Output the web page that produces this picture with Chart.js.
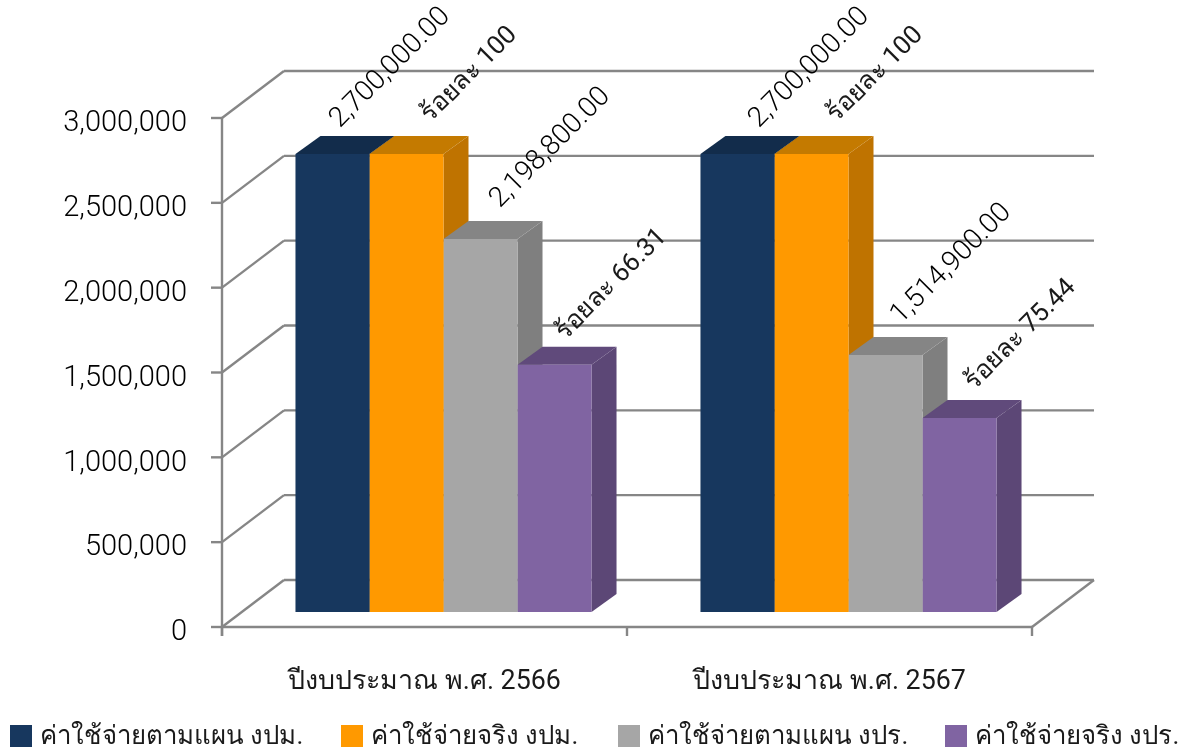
<!DOCTYPE html>
<html lang="th">
<head>
<meta charset="utf-8">
<title>ค่าใช้จ่าย งปม. งปร.</title>
<script src="https://cdn.jsdelivr.net/npm/chart.js@4/dist/chart.umd.min.js"></script>
<style>
  html, body { margin: 0; padding: 0; background: #fff; }
  #wrap { width: 1189px; height: 755px; }
</style>
</head>
<body>
<div id="wrap"><canvas id="budgetChart" width="1189" height="755"></canvas></div>
<script>
const years = ['ปีงบประมาณ พ.ศ. 2566', 'ปีงบประมาณ พ.ศ. 2567'];
const seriesNames = ['ค่าใช้จ่ายตามแผน งปม.', 'ค่าใช้จ่ายจริง งปม.', 'ค่าใช้จ่ายตามแผน งปร.', 'ค่าใช้จ่ายจริง งปร.'];
const planOperating = [2700000, 2700000];
const actualOperating = [2700000, 2700000];
const planInvestment = [2198800, 1514900];
const actualInvestment = [1458000, 1143000];
const barLabels = [
  ['2,700,000.00', '2,700,000.00'],
  ['ร้อยละ 100', 'ร้อยละ 100'],
  ['2,198,800.00', '1,514,900.00'],
  ['ร้อยละ 66.31', 'ร้อยละ 75.44']
];
const yTicks = [0, 500000, 1000000, 1500000, 2000000, 2500000, 3000000];

// digits only strings use light Roboto, strings with Thai stay at regular weight
const DIGIT_FONT = '300 28px Roboto, sans-serif';
const THAI_FAMILY = 'Roboto, "Noto Sans", sans-serif';
const THAI_LABEL_FONT = `25.8px ${THAI_FAMILY}`;
const LEGEND_FONT = `25.8px ${THAI_FAMILY}`;
const TEXT = '#1a1a1a';
const DIGIT_TEXT = '#000';
const FRONT = ['#17375e', '#ff9900', '#a6a6a6', '#8064a2'];
const SIDE = ['#122c4b', '#bf7300', '#7f7f7f', '#5c4776'];
const TOP = ['#122c4b', '#c47a00', '#858585', '#604a7b'];
const GRID = '#868686';

// depth of the box and where the bars sit inside it
const WALL_DX = 62, WALL_DY = 47;
const BAR_DX = 19, BAR_DY = 15;
const DEPTH_DX = 25, DEPTH_DY = 18;

// label centres relative to the top middle of each bar
const LABEL_OFFSETS = [
  [[58, -86], [72, -86]],
  [[63, -79], [64, -79]],
  [[70, -91], [66, -91]],
  [[57, -80], [61, -83]]
];
const LEGEND_X = [10, 341, 618, 945];

function line(ctx, x1, y1, x2, y2) {
  ctx.beginPath();
  ctx.moveTo(x1, y1);
  ctx.lineTo(x2, y2);
  ctx.stroke();
}

function drawFaces(ctx, bar, i) {
  const l = bar.x - bar.width / 2, r = bar.x + bar.width / 2;
  ctx.fillStyle = SIDE[i];
  ctx.beginPath();
  ctx.moveTo(r, bar.y);
  ctx.lineTo(r + DEPTH_DX, bar.y - DEPTH_DY);
  ctx.lineTo(r + DEPTH_DX, bar.base - DEPTH_DY);
  ctx.lineTo(r, bar.base);
  ctx.closePath();
  ctx.fill();
  ctx.fillStyle = TOP[i];
  ctx.beginPath();
  ctx.moveTo(l, bar.y);
  ctx.lineTo(l + DEPTH_DX, bar.y - DEPTH_DY);
  ctx.lineTo(r + DEPTH_DX, bar.y - DEPTH_DY);
  ctx.lineTo(r, bar.y);
  ctx.closePath();
  ctx.fill();
}

const boxWalls = {
  id: 'boxWalls',
  beforeDatasetsDraw(chart) {
    const { ctx, scales: { y }, chartArea: a } = chart;
    ctx.save();
    ctx.strokeStyle = GRID;
    ctx.lineWidth = 2.4;
    yTicks.forEach(v => {
      const py = y.getPixelForValue(v);
      line(ctx, a.left, py, a.left + WALL_DX, py - WALL_DY);
      line(ctx, a.left + WALL_DX, py - WALL_DY, a.right + WALL_DX, py - WALL_DY);
      line(ctx, a.left - 11, py, a.left, py);
    });
    // axis lines and floor
    line(ctx, a.left, a.top, a.left, a.bottom + 9);
    line(ctx, a.left, a.bottom, a.right, a.bottom);
    line(ctx, a.right, a.bottom, a.right + WALL_DX, a.bottom - WALL_DY);
    [a.left, (a.left + a.right) / 2, a.right].forEach(px => line(ctx, px, a.bottom, px, a.bottom + 9));
    ctx.restore();

    // side and top faces go left to right so nearer bars cover the ones before
    ctx.save();
    ctx.translate(BAR_DX, -BAR_DY);
    chart.data.labels.forEach((_, j) => {
      chart.data.datasets.forEach((ds, i) => drawFaces(ctx, chart.getDatasetMeta(i).data[j], i));
    });
    ctx.restore();
  },
  // the fronts drawn by the bar controller get shifted into the box
  beforeDatasetDraw(chart) {
    chart.ctx.save();
    chart.ctx.translate(BAR_DX, -BAR_DY);
  },
  afterDatasetDraw(chart) {
    chart.ctx.restore();
  },
  afterDatasetsDraw(chart) {
    const { ctx } = chart;
    ctx.save();
    ctx.textAlign = 'center';
    ctx.textBaseline = 'middle';
    chart.data.datasets.forEach((ds, i) => {
      ctx.font = i % 2 === 0 ? DIGIT_FONT : THAI_LABEL_FONT;
      ctx.fillStyle = i % 2 === 0 ? DIGIT_TEXT : TEXT;
      chart.getDatasetMeta(i).data.forEach((bar, j) => {
        const [ox, oy] = LABEL_OFFSETS[i][j];
        ctx.save();
        ctx.translate(bar.x + BAR_DX + ox, bar.y - BAR_DY + oy);
        ctx.rotate(-Math.PI / 4);
        ctx.fillText(barLabels[i][j], 0, 0);
        ctx.restore();
      });
    });
    ctx.restore();
  },
  afterDraw(chart) {
    const { ctx } = chart;
    ctx.save();
    ctx.font = LEGEND_FONT;
    ctx.textAlign = 'left';
    ctx.textBaseline = 'middle';
    seriesNames.forEach((name, i) => {
      ctx.fillStyle = FRONT[i];
      ctx.fillRect(LEGEND_X[i], 725, 22, 22);
      ctx.fillStyle = TEXT;
      ctx.fillText(name, LEGEND_X[i] + 30, 738);
    });
    ctx.restore();
  }
};

const datasets = [planOperating, actualOperating, planInvestment, actualInvestment].map((data, i) => ({
  label: seriesNames[i],
  data,
  backgroundColor: FRONT[i],
  borderWidth: 0,
  clip: false
}));

new Chart(document.getElementById('budgetChart'), {
  type: 'bar',
  data: { labels: years, datasets },
  plugins: [boxWalls],
  options: {
    responsive: false,
    animation: false,
    layout: { padding: { left: 0, right: 157, top: 118, bottom: 0 } },
    categoryPercentage: 0.731,
    barPercentage: 1,
    scales: {
      x: {
        grid: { display: false },
        border: { display: false },
        ticks: { color: TEXT, padding: 31, font: { family: THAI_FAMILY, size: 26.8 } },
        afterFit(scale) { scale.height = 128; }
      },
      y: {
        min: 0,
        max: 3000000,
        grid: { display: false },
        border: { display: false },
        afterBuildTicks(scale) { scale.ticks = yTicks.map(value => ({ value })); },
        ticks: {
          color: DIGIT_TEXT,
          padding: 27,
          labelOffset: 6,
          font: { family: 'Roboto, sans-serif', size: 29, weight: 300 },
          callback: v => v.toLocaleString('en-US')
        },
        afterFit(scale) { scale.width = 222; }
      }
    },
    plugins: {
      legend: { display: false },
      tooltip: { enabled: false }
    }
  }
});
</script>
</body>
</html>
